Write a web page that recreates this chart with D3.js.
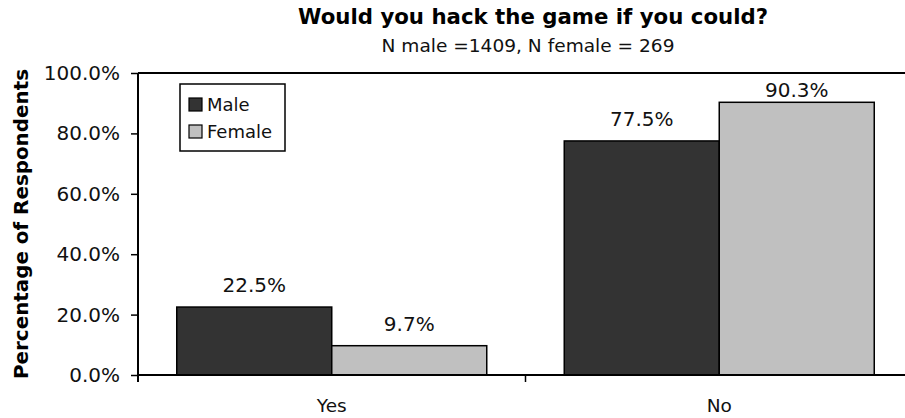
<!DOCTYPE html>
<html>
<head>
<meta charset="utf-8">
<script src="https://cdn.jsdelivr.net/npm/d3@7"></script>
<style>
  html, body { margin: 0; padding: 0; background: #fff; }
  svg { display: block; }
</style>
</head>
<body>
<svg id="chart" width="905" height="418"></svg>
<script>
// Survey answers by gender
const categories = ["Yes", "No"];
const seriesNames = ["Male", "Female"];
const maleValues = [22.5, 77.5];
const femaleValues = [9.7, 90.3];
const yTicks = [0, 20, 40, 60, 80, 100];
const seriesColors = ["#333333", "#c0c0c0"];

const svg = d3.select("#chart");
const W = 905, H = 418;
const margin = { left: 138, top: 73, right: -8, bottom: 43 };
const plotW = W - margin.left - margin.right;
const plotH = H - margin.top - margin.bottom;

const g = svg.append("g").attr("transform", `translate(${margin.left},${margin.top})`);

const x0 = d3.scaleBand().domain(categories).range([0, plotW]).paddingInner(0).paddingOuter(0);
const x1 = d3.scaleBand().domain(seriesNames).range([x0.bandwidth() * 0.1, x0.bandwidth() * 0.9]);
const y = d3.scaleLinear().domain([0, 100]).range([plotH, 0]);

const font = "'DejaVu Sans', Verdana, sans-serif";
const textColor = "#111";

// top border of the plot area
g.append("line")
  .attr("x1", 0).attr("x2", plotW)
  .attr("y1", 0).attr("y2", 0)
  .attr("stroke", "#000").attr("stroke-width", 2);

// bars
const rows = categories.map((c, i) => ({ cat: c, vals: [maleValues[i], femaleValues[i]] }));
const groups = g.selectAll("g.cat").data(rows).join("g")
  .attr("class", "cat")
  .attr("transform", d => `translate(${x0(d.cat)},0)`);

groups.selectAll("rect").data(d => d.vals.map((v, k) => ({ name: seriesNames[k], v, k })))
  .join("rect")
  .attr("x", d => x1(d.name))
  .attr("y", d => y(d.v))
  .attr("width", x1.bandwidth())
  .attr("height", d => y(0) - y(d.v))
  .attr("fill", d => seriesColors[d.k])
  .attr("stroke", "#000")
  .attr("stroke-width", 1.5);

// value labels sit above each bar, kept inside the plot area near the top
groups.selectAll("text.val").data(d => d.vals.map((v, k) => ({ name: seriesNames[k], v, k })))
  .join("text")
  .attr("class", "val")
  .attr("x", d => x1(d.name) + x1.bandwidth() / 2)
  .attr("y", d => Math.max(y(d.v) - 15, 24))
  .attr("text-anchor", "middle")
  .attr("font-family", font)
  .attr("font-size", 20)
  .attr("fill", textColor)
  .text(d => d.v.toFixed(1) + "%");

// y axis
const yAxis = d3.axisLeft(y).tickValues(yTicks).tickSize(7).tickPadding(11)
  .tickFormat(d => d.toFixed(1) + "%");
const ya = g.append("g").call(yAxis);
ya.select(".domain").attr("stroke-width", 2).attr("d", `M0,0V${plotH + 7}`);
ya.selectAll(".tick line").attr("stroke-width", 1.5);
ya.selectAll(".tick text")
  .attr("font-family", font).attr("font-size", 20).attr("fill", textColor);

// x axis
const xAxis = d3.axisBottom(x0).tickSize(0).tickPadding(24);
const xa = g.append("g").attr("transform", `translate(0,${plotH})`).call(xAxis);
xa.select(".domain").attr("stroke-width", 2).attr("d", `M0,0H${plotW}`);
xa.selectAll(".tick text")
  .attr("font-family", font).attr("font-size", 18.5).attr("fill", textColor);
// separator ticks between categories
xa.selectAll("line.sep").data(categories.slice(1)).join("line")
  .attr("class", "sep")
  .attr("x1", d => x0(d)).attr("x2", d => x0(d))
  .attr("y1", 0).attr("y2", 7)
  .attr("stroke", "#000").attr("stroke-width", 1.5);

// titles
svg.append("text")
  .attr("x", 533).attr("y", 24)
  .attr("text-anchor", "middle")
  .attr("font-family", font)
  .attr("font-weight", "bold")
  .attr("font-size", 21)
  .attr("textLength", 470)
  .attr("lengthAdjust", "spacingAndGlyphs")
  .text("Would you hack the game if you could?");
svg.append("text")
  .attr("x", 528).attr("y", 52)
  .attr("text-anchor", "middle")
  .attr("font-family", font)
  .attr("font-size", 18)
  .attr("textLength", 293)
  .attr("lengthAdjust", "spacingAndGlyphs")
  .attr("fill", textColor)
  .text("N male =1409, N female = 269");

svg.append("text")
  .attr("transform", `translate(28,${margin.top + plotH / 2}) rotate(-90)`)
  .attr("text-anchor", "middle")
  .attr("font-family", font)
  .attr("font-weight", "bold")
  .attr("font-size", 19.5)
  .attr("textLength", 310)
  .attr("lengthAdjust", "spacingAndGlyphs")
  .text("Percentage of Respondents");

// legend
const legend = svg.append("g").attr("transform", "translate(180,84)");
legend.append("rect")
  .attr("width", 105).attr("height", 67)
  .attr("fill", "#fff").attr("stroke", "#000").attr("stroke-width", 1.5);
const items = legend.selectAll("g.item").data(seriesNames).join("g")
  .attr("class", "item")
  .attr("transform", (d, i) => `translate(9,${14 + i * 27})`);
items.append("rect")
  .attr("width", 13).attr("height", 13)
  .attr("fill", (d, i) => seriesColors[i])
  .attr("stroke", "#000").attr("stroke-width", 1.2);
items.append("text")
  .attr("x", 18).attr("y", 13)
  .attr("font-family", font)
  .attr("font-size", 18)
  .attr("fill", textColor)
  .text(d => d);
</script>
</body>
</html>
